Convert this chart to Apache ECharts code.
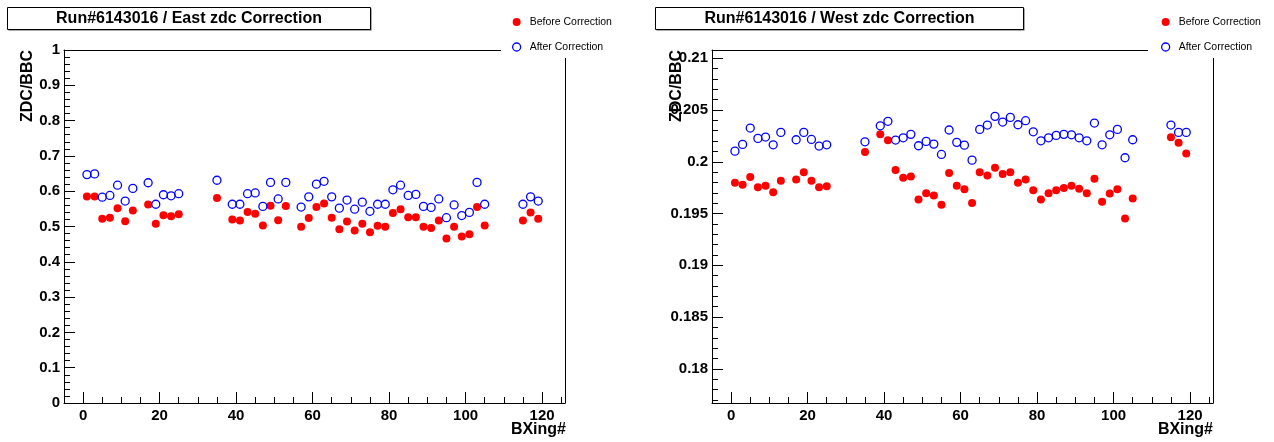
<!DOCTYPE html>
<html><head><meta charset="utf-8">
<script src="https://cdn.jsdelivr.net/npm/echarts@6/dist/echarts.min.js"></script>
<style>html,body{margin:0;padding:0;background:#fff}#c{width:1274px;height:442px}</style>
</head><body><div id="c"></div>
<script>
// ---------- data ----------
const bxEast = [1,3,5,7,9,11,13,17,19,21,23,25,35,39,41,43,45,47,49,51,53,57,59,61,63,65,67,69,71,73,75,77,79,81,83,85,87,89,91,93,95,97,99,101,103,105,115,117,119];
const eastBefore = [0.585,0.585,0.522,0.525,0.552,0.515,0.545,0.562,0.508,0.532,0.529,0.535,0.581,0.520,0.517,0.541,0.536,0.503,0.559,0.518,0.558,0.499,0.524,0.555,0.565,0.525,0.492,0.514,0.489,0.508,0.484,0.502,0.499,0.538,0.549,0.526,0.526,0.499,0.496,0.517,0.466,0.499,0.472,0.478,0.555,0.503,0.517,0.540,0.522];
const eastAfter = [0.647,0.649,0.583,0.588,0.617,0.572,0.608,0.624,0.563,0.590,0.587,0.593,0.631,0.563,0.563,0.593,0.595,0.557,0.625,0.578,0.625,0.555,0.584,0.620,0.628,0.584,0.552,0.575,0.549,0.569,0.543,0.563,0.563,0.604,0.617,0.588,0.591,0.557,0.554,0.578,0.525,0.561,0.531,0.540,0.625,0.563,0.563,0.584,0.572];

const bxWest = [1,3,5,7,9,11,13,17,19,21,23,25,35,39,41,43,45,47,49,51,53,55,57,59,61,63,65,67,69,71,73,75,77,79,81,83,85,87,89,91,93,95,97,99,101,103,105,115,117,119];
const westBefore = [0.19797,0.19778,0.19852,0.19755,0.19768,0.19707,0.19816,0.19830,0.19900,0.19816,0.19755,0.19765,0.20094,0.20265,0.20207,0.19920,0.19845,0.19859,0.19636,0.19697,0.19675,0.19584,0.19891,0.19768,0.19736,0.19603,0.19900,0.19868,0.19942,0.19881,0.19900,0.19797,0.19830,0.19726,0.19636,0.19697,0.19726,0.19746,0.19768,0.19739,0.19697,0.19836,0.19613,0.19694,0.19736,0.19453,0.19646,0.20236,0.20184,0.20081];
const westAfter = [0.20103,0.20168,0.20326,0.20226,0.20239,0.20164,0.20284,0.20213,0.20284,0.20216,0.20152,0.20164,0.20193,0.20348,0.20391,0.20210,0.20232,0.20265,0.20155,0.20197,0.20171,0.20071,0.20307,0.20188,0.20161,0.20016,0.20313,0.20355,0.20439,0.20384,0.20429,0.20358,0.20397,0.20290,0.20203,0.20232,0.20255,0.20265,0.20261,0.20232,0.20203,0.20374,0.20164,0.20261,0.20313,0.20039,0.20213,0.20355,0.20284,0.20284];

const xMajorTicks = [0,20,40,60,80,100,120];
const westYMajorTicks = [0.18,0.185,0.19,0.195,0.2,0.205,0.21];
const westYMinorTicks = [];
for (let k = 177; k <= 210; k++) westYMinorTicks.push(k / 1000);

const titles = ['Run#6143016 / East zdc Correction', 'Run#6143016 / West zdc Correction'];
const legendNames = ['Before Correction', 'After Correction'];

// ---------- styles ----------
const FONT = '"Liberation Sans", Arial, Helvetica, sans-serif';
const black = '#000';
const lblStyle = { color: black, fontSize: 15, fontWeight: 'bold', fontFamily: FONT };
const XMIN = -5, XMAX = 126;
const lineOn = { show: true, onZero: false, lineStyle: { color: black, width: 1 } };
const lineOff = { show: false, onZero: false };

function xAxesFor(g) {
  return [
    { gridIndex: g, type: 'value', position: 'bottom', min: XMIN, max: XMAX, interval: 5,
      axisLine: lineOn,
      axisTick: { show: true, inside: true, length: 6, lineStyle: { color: black, width: 1 } },
      axisLabel: Object.assign({ margin: 5, formatter: v => (v % 20 === 0 && v >= 0 && v <= 120) ? String(v) : '' }, lblStyle),
      splitLine: { show: false } },
    { gridIndex: g, type: 'value', position: 'bottom', min: XMIN, max: XMAX,
      axisLine: lineOff,
      axisTick: { show: true, inside: true, length: 11, customValues: xMajorTicks, lineStyle: { color: black, width: 1 } },
      axisLabel: { show: false }, splitLine: { show: false } },
    { gridIndex: g, type: 'value', position: 'top', min: XMIN, max: XMAX,
      axisLine: lineOn,
      axisTick: { show: false }, axisLabel: { show: false }, splitLine: { show: false } }
  ];
}
function frameY(g, min, max) {
  return { gridIndex: g, type: 'value', position: 'right', min: min, max: max,
    axisLine: lineOn,
    axisTick: { show: false }, axisLabel: { show: false }, splitLine: { show: false } };
}
const WMIN = 0.1767, WMAX = 0.2108;

const legendBase = {
  orient: 'vertical', top: 1, itemGap: 11, itemWidth: 16, itemHeight: 8,
  backgroundColor: '#fff', selectedMode: false,
  textStyle: { color: black, fontSize: 10.5, lineHeight: 14, fontFamily: FONT },
  data: [
    { name: legendNames[0], icon: 'circle', itemStyle: { color: '#ff0000', borderWidth: 0, opacity: 1 } },
    { name: legendNames[1], icon: 'circle', itemStyle: { color: '#ffffff', borderColor: '#0000ff', borderWidth: 1.3, opacity: 1 } }
  ]
};

function scat(name, xs, ys, xi, yi, filled) {
  return {
    type: 'scatter', name: name, xAxisIndex: xi, yAxisIndex: yi, symbol: 'circle', symbolSize: 8,
    data: xs.map((x, i) => [x, ys[i]]),
    itemStyle: filled ? { color: '#ff0000', opacity: 1 } : { color: 'rgba(255,255,255,0)', borderColor: '#0000ff', borderWidth: 1.3, opacity: 1 },
    silent: true
  };
}

function titleBox(x, w, text) {
  return [
    { type: 'rect', shape: { x: x + 1.5, y: 8.5, width: w, height: 22 }, style: { fill: '#555' }, z: 10 },
    { type: 'rect', shape: { x: x + 0.5, y: 7.5, width: w, height: 22 }, style: { fill: '#fff', stroke: black, lineWidth: 1 }, z: 11 },
    { type: 'text', x: x + w / 2 + 0.5, y: 19, z: 12,
      style: { text: text, font: 'bold 16px ' + FONT, fill: black, align: 'center', verticalAlign: 'middle', textAlign: 'center', textVerticalAlign: 'middle' } }
  ];
}
function vText(x, y, text) {
  return { type: 'text', x: x, y: y, rotation: Math.PI / 2, z: 12,
    style: { text: text, font: 'bold 16px ' + FONT, fill: black, align: 'right', verticalAlign: 'middle', textAlign: 'right', textVerticalAlign: 'middle' } };
}
function hText(x, y, text) {
  return { type: 'text', x: x, y: y, z: 12,
    style: { text: text, font: 'bold 16px ' + FONT, fill: black, align: 'right', verticalAlign: 'middle', textAlign: 'right', textVerticalAlign: 'middle' } };
}

const option = {
  animation: false,
  backgroundColor: '#fff',
  grid: [
    { left: 64, top: 50, width: 501, height: 353, show: false, outerBoundsMode: 'none', containLabel: false },
    { left: 712, top: 50, width: 501, height: 353, show: false, outerBoundsMode: 'none', containLabel: false }
  ],
  xAxis: xAxesFor(0).concat(xAxesFor(1)),
  yAxis: [
    { gridIndex: 0, type: 'value', position: 'left', min: 0, max: 1, interval: 0.1,
      axisLine: lineOn,
      axisTick: { show: true, inside: true, length: 11, lineStyle: { color: black, width: 1 } },
      minorTick: { show: true, splitNumber: 5, length: 6, lineStyle: { color: black, width: 1 } },
      axisLabel: Object.assign({ margin: 4 }, lblStyle), splitLine: { show: false } },
    frameY(0, 0, 1),
    { gridIndex: 1, type: 'value', position: 'left', min: WMIN, max: WMAX,
      axisLine: lineOn,
      axisTick: { show: true, inside: true, length: 11, customValues: westYMajorTicks, lineStyle: { color: black, width: 1 } },
      axisLabel: Object.assign({ margin: 4, customValues: westYMajorTicks }, lblStyle), splitLine: { show: false } },
    { gridIndex: 1, type: 'value', position: 'left', min: WMIN, max: WMAX,
      axisLine: lineOff,
      axisTick: { show: true, inside: true, length: 6, customValues: westYMinorTicks, lineStyle: { color: black, width: 1 } },
      axisLabel: { show: false }, splitLine: { show: false } },
    frameY(1, WMIN, WMAX)
  ],
  legend: [
    Object.assign({}, legendBase, { left: 501, padding: [14, 30, 4, 11] }),
    Object.assign({}, legendBase, { left: 1148, padding: [14, 40, 4, 13] })
  ],
  series: [
    scat(legendNames[0], bxEast, eastBefore, 0, 0, true),
    scat(legendNames[1], bxEast, eastAfter, 0, 0, false),
    scat(legendNames[0], bxWest, westBefore, 3, 2, true),
    scat(legendNames[1], bxWest, westAfter, 3, 2, false)
  ],
  graphic: [].concat(
    titleBox(7, 363, titles[0]),
    titleBox(655, 368, titles[1]),
    [vText(28, 50, 'ZDC/BBC'), vText(677, 50, 'ZDC/BBC'),
     hText(566, 430, 'BXing#'), hText(1213, 430, 'BXing#')]
  )
};

const chart = echarts.init(document.getElementById('c'), null, { renderer: 'canvas' });
chart.setOption(option);
</script></body></html>
